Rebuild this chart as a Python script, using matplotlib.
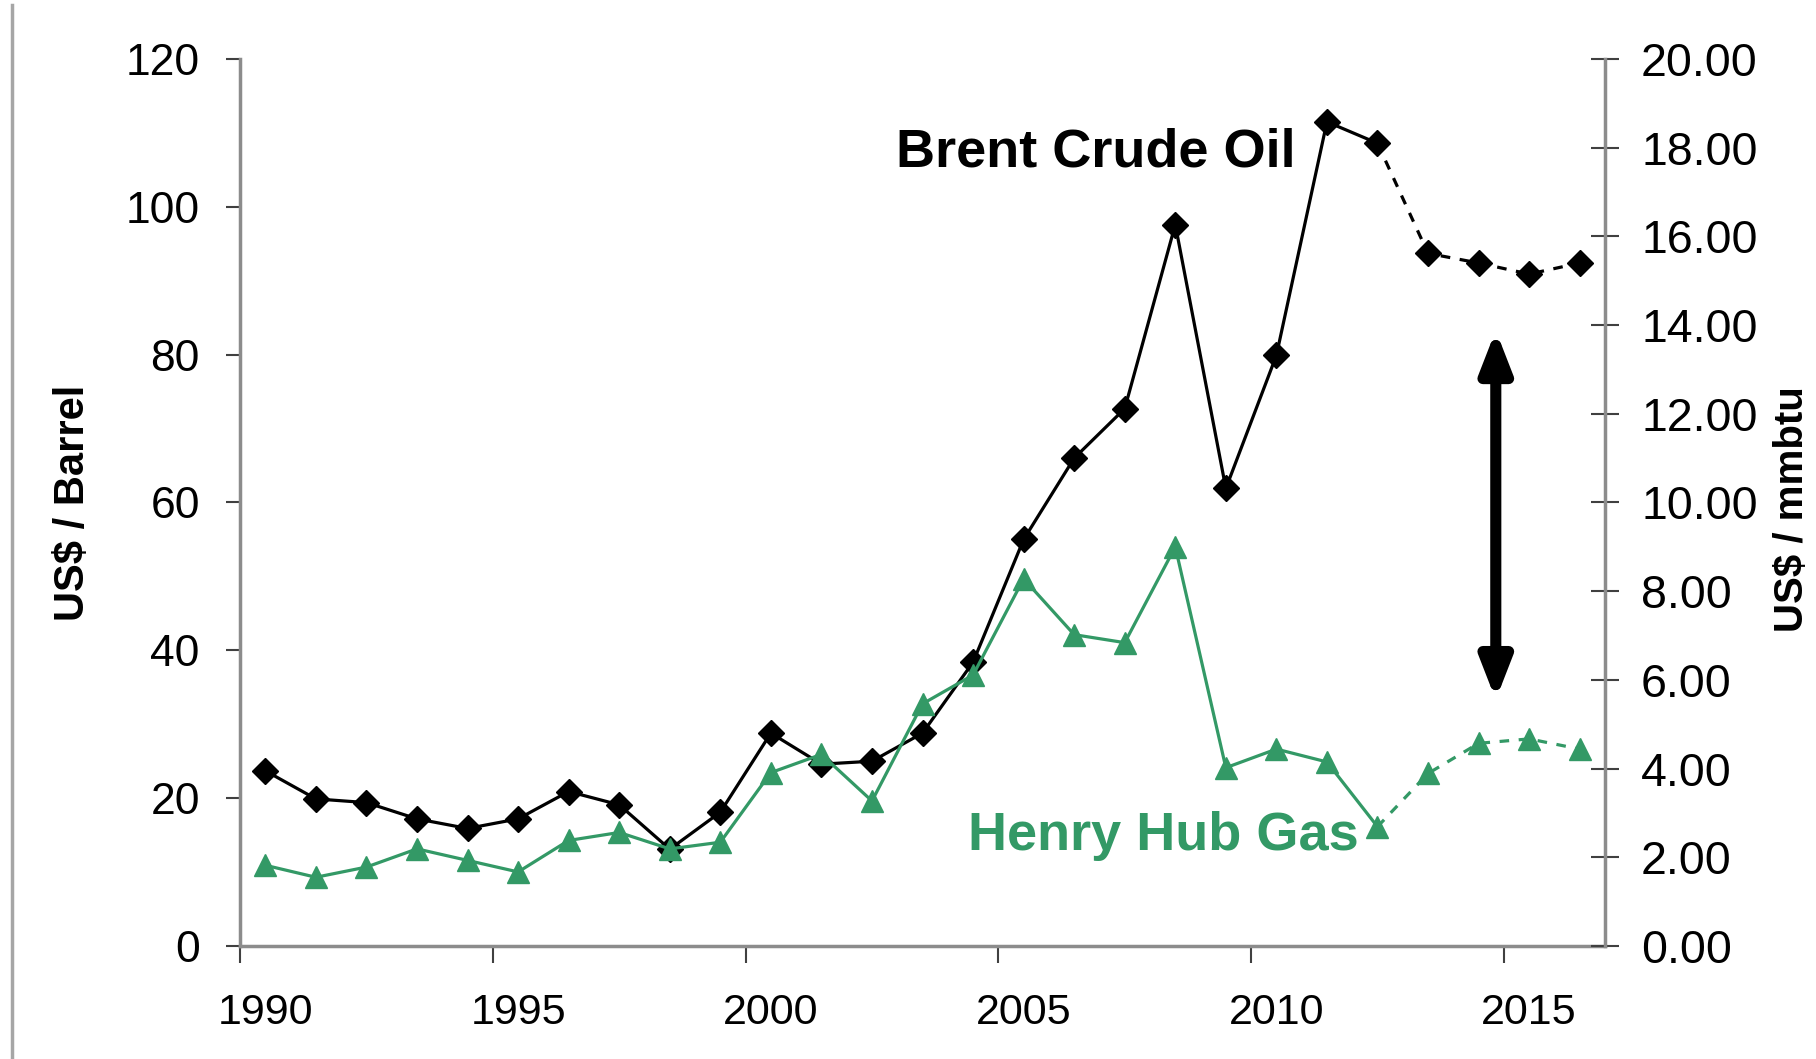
import matplotlib
matplotlib.use("Agg")
import matplotlib.pyplot as plt
from matplotlib.lines import Line2D

# annual averages, last points (2013-2016) are forecasts -> dashed
years = list(range(1990, 2017))
brent = [23.7, 19.9, 19.4, 17.2, 15.9, 17.2, 20.9, 19.1, 13.1, 18.1,
         28.8, 24.6, 25.0, 28.8, 38.4, 55.0, 66.0, 72.7, 97.6, 61.9,
         79.9, 111.5, 108.6, 93.7, 92.4, 90.9, 92.4]
gas = [1.82, 1.55, 1.78, 2.19, 1.93, 1.67, 2.38, 2.56, 2.19, 2.34,
       3.91, 4.32, 3.27, 5.46, 6.11, 8.28, 7.02, 6.84, 9.00, 4.02,
       4.44, 4.15, 2.69, 3.89, 4.57, 4.67, 4.44]
last_actual = 2012
x_labels = ["1990", "1995", "2000", "2005", "2010", "2015"]
left_ticks = [0, 20, 40, 60, 80, 100, 120]
right_ticks = [0, 2, 4, 6, 8, 10, 12, 14, 16, 18, 20]

GREEN = "#339966"
GREY = "#8c8c8c"
plt.rcParams["font.family"] = ["Liberation Sans", "DejaVu Sans"]

fig = plt.figure(figsize=(18.16, 10.59), dpi=100)
ax = fig.add_axes([0.1322, 0.1067, 0.7516, 0.8376])
ax2 = ax.twinx()

k = years.index(last_actual) + 1
fc = list(range(1, len(years) - k + 1))
ax.plot(years[:k], brent[:k], color="k", lw=2.3, marker="D", ms=13, zorder=3)
ax.plot(years[k - 1:], brent[k - 1:], color="k", lw=2.3, ls=(0, (3, 3)),
        marker="D", ms=13, markevery=fc, zorder=3)
ax2.plot(years[:k], gas[:k], color=GREEN, lw=2.3, marker="^", ms=16, zorder=3)
ax2.plot(years[k - 1:], gas[k - 1:], color=GREEN, lw=2.3, ls=(0, (3, 3)),
         marker="^", ms=16, markevery=fc, zorder=3)

ax.set_xlim(1989.5, 2016.5)
ax.set_ylim(0, 120)
ax2.set_ylim(0, 20)

ax.set_xticks([int(s) for s in x_labels])
ax.set_xticklabels(x_labels, fontsize=31)
ax.set_xticks([y - 0.5 for y in range(1990, 2016, 5)], minor=True)
ax.tick_params(axis="x", which="major", length=0, pad=34)
ax.tick_params(axis="x", which="minor", direction="out", length=12, width=1.5, color="#404040")

ax.set_yticks(left_ticks)
ax.tick_params(axis="y", direction="out", length=10, width=1.5, color="#404040",
               labelsize=32, pad=19)
ax2.set_yticks(right_ticks)
ax2.set_yticklabels(["%.2f" % v for v in right_ticks])
ax2.tick_params(axis="y", direction="inout", length=20, width=1.5, color="#404040",
                labelsize=33.5, pad=16)

for a in (ax, ax2):
    a.spines["top"].set_visible(False)
    for s in ("left", "right", "bottom"):
        a.spines[s].set_color(GREY)
        a.spines[s].set_linewidth(2.5)
ax.spines["right"].set_visible(False)
ax2.spines["left"].set_visible(False)
ax2.spines["bottom"].set_visible(False)

ax.set_ylabel("US$ / Barrel", fontsize=30, fontweight="bold")
ax.yaxis.set_label_coords(-0.108, 0.5)
ax2.set_ylabel("US$ / mmbtu", fontsize=29, fontweight="bold", rotation=90, va="center")
ax2.yaxis.set_label_coords(1.137, 0.493)

ax2.text(2006.42, 107.3 / 6, "Brent Crude Oil", fontsize=39, fontweight="bold",
         color="k", ha="center", va="center")
ax2.text(2007.77, 14.9 / 6, "Henry Hub Gas", fontsize=39, fontweight="bold",
         color=GREEN, ha="center", va="center")
ax2.annotate("", xy=(2014.34, 83.3 / 6), xytext=(2014.34, 33.3 / 6),
             arrowprops=dict(arrowstyle="<|-|>,head_length=1.08,head_width=0.42",
                             lw=8, color="k", mutation_scale=22,
                             shrinkA=0, shrinkB=0))

fig.add_artist(Line2D([12 / 1816, 12 / 1816], [0, 1 - 5 / 1059],
                      transform=fig.transFigure, color="#a6a6a6", lw=2.5))

fig.savefig("out.png", dpi=100)
